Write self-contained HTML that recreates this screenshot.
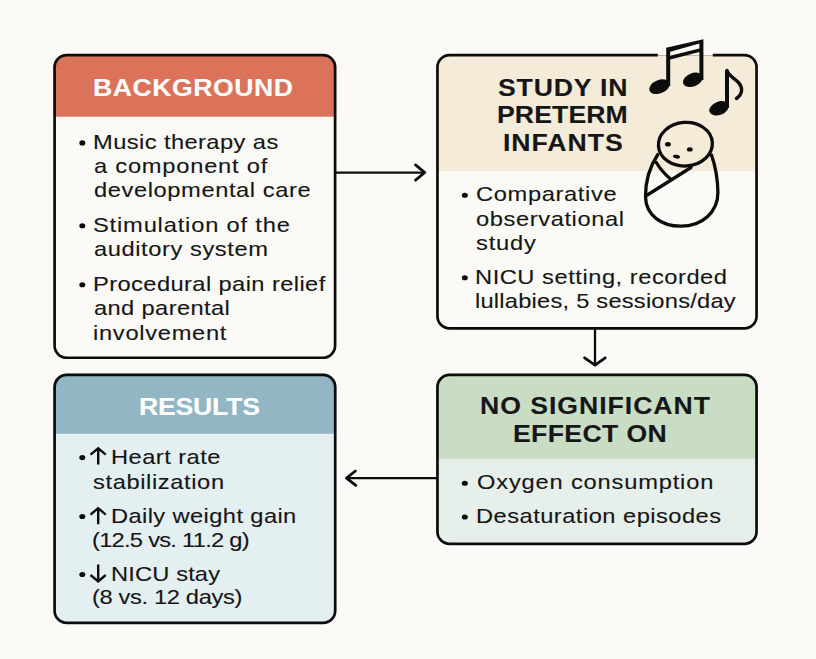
<!DOCTYPE html><html><head><meta charset="utf-8"><style>
html,body{margin:0;padding:0;}
body{width:816px;height:659px;background:#fbfaf6;position:relative;overflow:hidden;font-family:"Liberation Sans",sans-serif;}
.box{position:absolute;box-sizing:border-box;border:2.7px solid #0c0c0c;overflow:hidden;}
.hdr{position:absolute;left:0;top:0;right:0;}
.t{position:absolute;white-space:nowrap;line-height:1;transform-origin:0 0;}
svg{position:absolute;left:0;top:0;}
</style></head><body>
<svg width="816" height="659" viewBox="0 0 816 659"><clipPath id="c0"><rect x="53.25" y="53.7" width="283.20" height="305.40" rx="13.5"/></clipPath><g clip-path="url(#c0)"><rect x="53.25" y="53.7" width="283.20" height="305.40" fill="#fbfaf6"/><rect x="53.25" y="53.7" width="283.20" height="63.00" fill="#db725a"/></g><rect x="54.60" y="55.05" width="280.50" height="302.70" rx="12.15" fill="none" stroke="#0c0c0c" stroke-width="2.7"/><clipPath id="c1"><rect x="436.1" y="53.7" width="321.80" height="276.00" rx="13.5"/></clipPath><g clip-path="url(#c1)"><rect x="436.1" y="53.7" width="321.80" height="276.00" fill="#fbfaf6"/><rect x="436.1" y="53.7" width="321.80" height="117.40" fill="#f4ebd9"/></g><rect x="437.45" y="55.05" width="319.10" height="273.30" rx="12.15" fill="none" stroke="#0c0c0c" stroke-width="2.7"/><clipPath id="c2"><rect x="53.25" y="373.6" width="283.30" height="250.55" rx="13.5"/></clipPath><g clip-path="url(#c2)"><rect x="53.25" y="373.6" width="283.30" height="250.55" fill="#e4eff2"/><rect x="53.25" y="373.6" width="283.30" height="60.20" fill="#93b6c5"/></g><rect x="54.60" y="374.95" width="280.60" height="247.85" rx="12.15" fill="none" stroke="#0c0c0c" stroke-width="2.7"/><clipPath id="c3"><rect x="436.1" y="373.6" width="321.80" height="171.60" rx="13.5"/></clipPath><g clip-path="url(#c3)"><rect x="436.1" y="373.6" width="321.80" height="171.60" fill="#e6efea"/><rect x="436.1" y="373.6" width="321.80" height="85.10" fill="#c9dcc4"/></g><rect x="437.45" y="374.95" width="319.10" height="168.90" rx="12.15" fill="none" stroke="#0c0c0c" stroke-width="2.7"/></svg>
<div class="t" style="left:93.12px;top:75.51px;font-size:24.2px;font-weight:bold;color:#ffffff;letter-spacing:0.50px;transform:scaleX(1.1);-webkit-text-stroke:0.12px currentColor">BACKGROUND</div>
<div class="t" style="left:92.74px;top:131.56px;font-size:20.6px;font-weight:normal;color:#161616;letter-spacing:0.36px;transform:scaleX(1.15);-webkit-text-stroke:0.12px currentColor">Music therapy as</div>
<div class="t" style="left:93.50px;top:155.56px;font-size:20.6px;font-weight:normal;color:#161616;letter-spacing:0.67px;transform:scaleX(1.15);-webkit-text-stroke:0.12px currentColor">a component of</div>
<div class="t" style="left:93.57px;top:179.96px;font-size:20.6px;font-weight:normal;color:#161616;letter-spacing:0.51px;transform:scaleX(1.15);-webkit-text-stroke:0.12px currentColor">developmental care</div>
<div class="t" style="left:93.14px;top:214.66px;font-size:20.6px;font-weight:normal;color:#161616;letter-spacing:0.71px;transform:scaleX(1.15);-webkit-text-stroke:0.12px currentColor">Stimulation of the</div>
<div class="t" style="left:93.50px;top:238.56px;font-size:20.6px;font-weight:normal;color:#161616;letter-spacing:0.50px;transform:scaleX(1.15);-webkit-text-stroke:0.12px currentColor">auditory system</div>
<div class="t" style="left:92.79px;top:274.26px;font-size:20.6px;font-weight:normal;color:#161616;letter-spacing:0.35px;transform:scaleX(1.15);-webkit-text-stroke:0.12px currentColor">Procedural pain relief</div>
<div class="t" style="left:93.50px;top:297.56px;font-size:20.6px;font-weight:normal;color:#161616;letter-spacing:0.32px;transform:scaleX(1.15);-webkit-text-stroke:0.12px currentColor">and parental</div>
<div class="t" style="left:92.62px;top:322.66px;font-size:20.6px;font-weight:normal;color:#161616;letter-spacing:0.61px;transform:scaleX(1.15);-webkit-text-stroke:0.12px currentColor">involvement</div>
<div class="t" style="left:498.01px;top:75.71px;font-size:24.2px;font-weight:bold;color:#161616;letter-spacing:0.76px;transform:scaleX(1.1);-webkit-text-stroke:0.12px currentColor">STUDY IN</div>
<div class="t" style="left:496.52px;top:103.01px;font-size:24.2px;font-weight:bold;color:#161616;letter-spacing:0.10px;transform:scaleX(1.1);-webkit-text-stroke:0.12px currentColor">PRETERM</div>
<div class="t" style="left:502.97px;top:130.61px;font-size:24.2px;font-weight:bold;color:#161616;letter-spacing:0.89px;transform:scaleX(1.1);-webkit-text-stroke:0.12px currentColor">INFANTS</div>
<div class="t" style="left:476.31px;top:184.36px;font-size:20.6px;font-weight:normal;color:#161616;letter-spacing:0.55px;transform:scaleX(1.15);-webkit-text-stroke:0.12px currentColor">Comparative</div>
<div class="t" style="left:476.07px;top:208.56px;font-size:20.6px;font-weight:normal;color:#161616;letter-spacing:0.52px;transform:scaleX(1.15);-webkit-text-stroke:0.12px currentColor">observational</div>
<div class="t" style="left:475.63px;top:233.06px;font-size:20.6px;font-weight:normal;color:#161616;letter-spacing:0.73px;transform:scaleX(1.15);-webkit-text-stroke:0.12px currentColor">study</div>
<div class="t" style="left:475.24px;top:266.86px;font-size:20.6px;font-weight:normal;color:#161616;letter-spacing:0.46px;transform:scaleX(1.15);-webkit-text-stroke:0.12px currentColor">NICU setting, recorded</div>
<div class="t" style="left:475.05px;top:290.86px;font-size:20.6px;font-weight:normal;color:#161616;letter-spacing:0.19px;transform:scaleX(1.15);-webkit-text-stroke:0.12px currentColor">lullabies, 5 sessions/day</div>
<div class="t" style="left:139.01px;top:394.51px;font-size:24.2px;font-weight:bold;color:#ffffff;letter-spacing:-0.19px;transform:scaleX(1.1);-webkit-text-stroke:0.12px currentColor">RESULTS</div>
<div class="t" style="left:111.26px;top:447.06px;font-size:20.6px;font-weight:normal;color:#161616;letter-spacing:0.40px;transform:scaleX(1.15);-webkit-text-stroke:0.12px currentColor">Heart rate</div>
<div class="t" style="left:93.16px;top:471.56px;font-size:20.6px;font-weight:normal;color:#161616;letter-spacing:0.53px;transform:scaleX(1.15);-webkit-text-stroke:0.12px currentColor">stabilization</div>
<div class="t" style="left:111.26px;top:505.86px;font-size:20.6px;font-weight:normal;color:#161616;letter-spacing:0.34px;transform:scaleX(1.15);-webkit-text-stroke:0.12px currentColor">Daily weight gain</div>
<div class="t" style="left:92.03px;top:529.76px;font-size:20.6px;font-weight:normal;color:#161616;letter-spacing:-0.64px;transform:scaleX(1.15);-webkit-text-stroke:0.12px currentColor">(12.5 vs. 11.2 g)</div>
<div class="t" style="left:111.26px;top:563.56px;font-size:20.6px;font-weight:normal;color:#161616;letter-spacing:0.12px;transform:scaleX(1.15);-webkit-text-stroke:0.12px currentColor">NICU stay</div>
<div class="t" style="left:92.03px;top:587.06px;font-size:20.6px;font-weight:normal;color:#161616;letter-spacing:-0.31px;transform:scaleX(1.15);-webkit-text-stroke:0.12px currentColor">(8 vs. 12 days)</div>
<div class="t" style="left:479.82px;top:393.71px;font-size:24.2px;font-weight:bold;color:#161616;letter-spacing:0.89px;transform:scaleX(1.1);-webkit-text-stroke:0.12px currentColor">NO SIGNIFICANT</div>
<div class="t" style="left:512.82px;top:421.91px;font-size:24.2px;font-weight:bold;color:#161616;letter-spacing:0.33px;transform:scaleX(1.1);-webkit-text-stroke:0.12px currentColor">EFFECT ON</div>
<div class="t" style="left:476.87px;top:472.46px;font-size:20.6px;font-weight:normal;color:#161616;letter-spacing:0.71px;transform:scaleX(1.15);-webkit-text-stroke:0.12px currentColor">Oxygen consumption</div>
<div class="t" style="left:475.75px;top:505.86px;font-size:20.6px;font-weight:normal;color:#161616;letter-spacing:0.41px;transform:scaleX(1.15);-webkit-text-stroke:0.12px currentColor">Desaturation episodes</div>
<svg width="816" height="659" viewBox="0 0 816 659"><path d="M336 172.6 H423" stroke="#0c0c0c" fill="none" stroke-width="2.3" stroke-linecap="butt"/><path d="M415.5 164.9 L424.8 172.5 L415.5 180.1" stroke="#0c0c0c" fill="none" stroke-width="2.8" stroke-linecap="round" stroke-linejoin="round"/><path d="M595 329 V364" stroke="#0c0c0c" fill="none" stroke-width="2.3" stroke-linecap="butt"/><path d="M584.6 357.8 L595 365.2 L605.2 357.8" stroke="#0c0c0c" fill="none" stroke-width="2.8" stroke-linecap="round" stroke-linejoin="round"/><path d="M437 478.15 H348" stroke="#0c0c0c" fill="none" stroke-width="2.3" stroke-linecap="butt"/><path d="M355.4 471 L346.5 478.1 L355.8 485.3" stroke="#0c0c0c" fill="none" stroke-width="2.8" stroke-linecap="round" stroke-linejoin="round"/><ellipse cx="82.3" cy="142.9" rx="3.0" ry="2.55" fill="#0c0c0c"/><ellipse cx="82.3" cy="225.7" rx="3.0" ry="2.55" fill="#0c0c0c"/><ellipse cx="82.3" cy="284.7" rx="3.0" ry="2.55" fill="#0c0c0c"/><ellipse cx="464.8" cy="195.3" rx="3.0" ry="2.55" fill="#0c0c0c"/><ellipse cx="464.8" cy="277.8" rx="3.0" ry="2.55" fill="#0c0c0c"/><ellipse cx="82.3" cy="457.6" rx="3.0" ry="2.55" fill="#0c0c0c"/><ellipse cx="82.3" cy="516.5" rx="3.0" ry="2.55" fill="#0c0c0c"/><ellipse cx="82.3" cy="574.5" rx="3.0" ry="2.55" fill="#0c0c0c"/><ellipse cx="464.8" cy="483.2" rx="3.0" ry="2.55" fill="#0c0c0c"/><ellipse cx="464.8" cy="517" rx="3.0" ry="2.55" fill="#0c0c0c"/><path d="M98.2 448.1 V464.40000000000003 M90.5 454.70000000000005 L98.2 448.3 L105.8 454.70000000000005" stroke="#0c0c0c" fill="none" stroke-width="2.4" stroke-linecap="butt" stroke-linejoin="miter"/><path d="M98.2 508.0 V524.3 M90.5 514.6 L98.2 508.2 L105.8 514.6" stroke="#0c0c0c" fill="none" stroke-width="2.4" stroke-linecap="butt" stroke-linejoin="miter"/><path d="M98.2 564.5 V581.5 M90.5 575.0 L98.2 581.4 L105.8 575.0" stroke="#0c0c0c" fill="none" stroke-width="2.4" stroke-linecap="butt" stroke-linejoin="miter"/><rect x="657.8" y="52" width="55" height="3.4" fill="#fbfaf6"/><rect x="657.8" y="55.4" width="55" height="1.6" fill="#f4ebd9"/><g><ellipse cx="659.5" cy="86.7" rx="10.8" ry="6.6" transform="rotate(-22 659.5 86.7)" fill="#0c0c0c"/><ellipse cx="692.8" cy="79.8" rx="10.3" ry="6.6" transform="rotate(-22 692.8 79.8)" fill="#0c0c0c"/><path d="M666.2 86 V47.8 L703.4 39.2 V80 H699.4 V52 L670.2 59.4 V86 Z" fill="#0c0c0c"/><path d="M670.2 51.8 L699.4 43.6 L699.4 48.6 L670.2 55.8 Z" fill="#faf8f2"/><ellipse cx="719" cy="108.3" rx="10.2" ry="6.6" transform="rotate(-22 719 108.3)" fill="#0c0c0c"/><path d="M725 108 V70 H729 V108 Z" fill="#0c0c0c"/><path d="M727 70.5 C729 76, 734 78, 738 82 C743 87, 743 94, 736.5 98.5" stroke="#0c0c0c" stroke-width="3.4" fill="none" stroke-linecap="round"/></g><path d="M657.8 154.5 C649.5 167, 645.3 182, 645.5 197 C646 215, 661 226.2, 681 226.2 C702 226.2, 718 212, 717.9 192.5 C717.7 177, 715 165, 711.5 155" stroke="#0c0c0c" fill="none" stroke-width="3.3" stroke-linecap="round" stroke-linejoin="round"/><ellipse cx="685.4" cy="144.2" rx="27" ry="21.8" transform="rotate(-4 685.4 144.2)" stroke="#0c0c0c" fill="none" stroke-width="3.3" stroke-linecap="round" stroke-linejoin="round"/><path d="M646.5 195.5 L691 167.5 M656.3 162.5 Q662 172, 670.5 179" stroke="#0c0c0c" fill="none" stroke-width="3.3" stroke-linecap="round" stroke-linejoin="round"/><ellipse cx="667.9" cy="144.2" rx="2.9" ry="2.3" fill="#0c0c0c"/><ellipse cx="689.8" cy="149.4" rx="2.9" ry="2.2" fill="#0c0c0c"/><ellipse cx="676.5" cy="156.7" rx="3.6" ry="1.9" transform="rotate(10 676.5 156.7)" fill="#0c0c0c"/></svg>
</body></html>
